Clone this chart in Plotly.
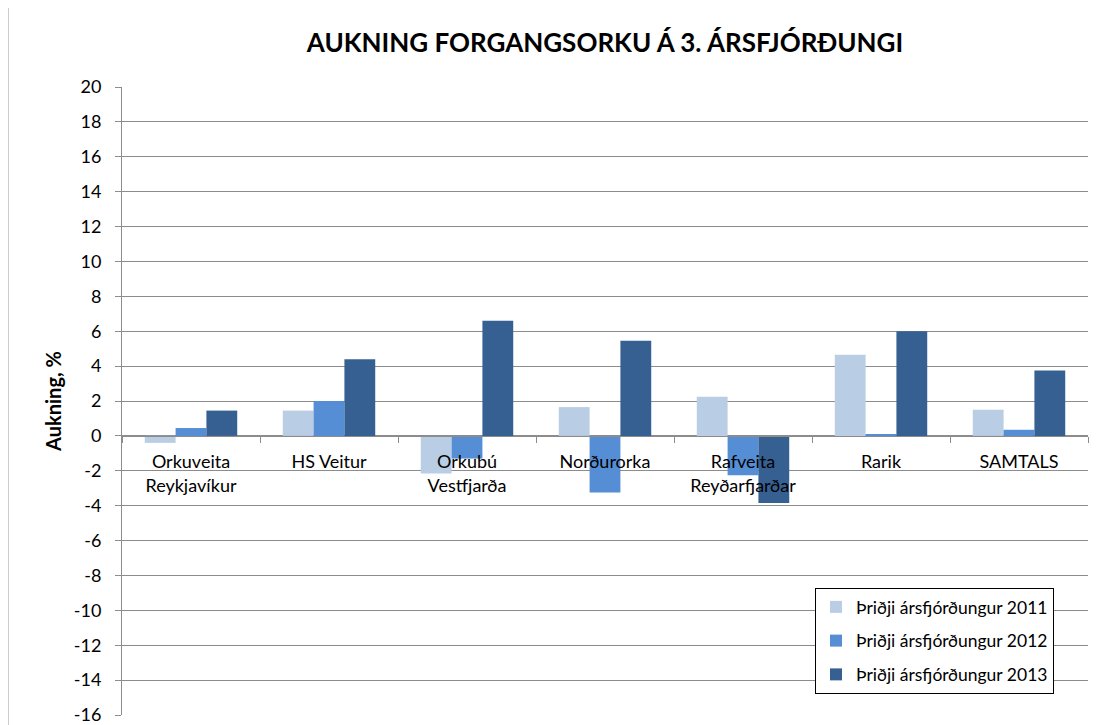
import plotly.graph_objects as go

# veitur / fyrirtæki
categories = ["Orkuveita<br>Reykjavíkur", "HS Veitur", "Orkubú<br>Vestfjarða", "Norðurorka",
              "Rafveita<br>Reyðarfjarðar", "Rarik", "SAMTALS"]

# aukning í % eftir ári
q3_2011 = [-0.4, 1.45, -2.15, 1.65, 2.25, 4.65, 1.5]
q3_2012 = [0.45, 2.0, -1.3, -3.25, -2.25, 0.1, 0.35]
q3_2013 = [1.45, 4.4, 6.6, 5.45, -3.85, 6.0, 3.75]

y_ticks = [-16, -14, -12, -10, -8, -6, -4, -2, 0, 2, 4, 6, 8, 10, 12, 14, 16, 18, 20]

series_names = ["Þriðji ársfjórðungur 2011", "Þriðji ársfjórðungur 2012", "Þriðji ársfjórðungur 2013"]
colors = ["#B9CDE5", "#558ED5", "#376092"]

# síðan hefur 8px spássíu í body, svo myndin er færð um það
OFF = 8
W, H = 1110 - 2 * OFF, 725 - OFF
L, T = 122 - OFF, 87 - OFF
R = W - (1088 - OFF)
B = H - (715 - OFF)
pw, ph = W - L - R, H - T - B

fig = go.Figure()
for name, vals, c in zip(series_names, [q3_2011, q3_2012, q3_2013], colors):
    fig.add_trace(go.Bar(x=categories, y=vals, name=name, marker_color=c,
                         marker_line_width=0, legendgroup=name))

fnt = "Lato, 'Open Sans', sans-serif"

fig.update_layout(
    width=W, height=H,
    margin=dict(l=L, r=R, t=T, b=B, autoexpand=False),
    paper_bgcolor="white", plot_bgcolor="white",
    font=dict(family=fnt, color="black", size=17),
    barmode="group", bargap=0.33, bargroupgap=0,
    title=dict(text="<b>AUKNING FORGANGSORKU Á 3. ÁRSFJÓRÐUNGI</b>",
               x=(L + pw / 2) / W, xanchor="center", y=1 - (43 - OFF) / H, yanchor="middle",
               font=dict(size=26, family=fnt)),
    legend=dict(x=(815 - OFF - L) / pw, y=(H - B - (588 - OFF)) / ph, xanchor="left", yanchor="top",
                bordercolor="black", borderwidth=1, bgcolor="white", itemwidth=30,
                font=dict(size=17.5), tracegroupgap=8, traceorder="grouped"),
    showlegend=True,
)

fig.update_yaxes(range=[-16, 20], tickmode="array", tickvals=y_ticks,
                 ticktext=[str(v) for v in y_ticks],
                 showgrid=True, gridcolor="#8C8C8C", gridwidth=1,
                 showline=True, linecolor="#8C8C8C", ticks="outside", ticklen=6,
                 tickcolor="#8C8C8C", zeroline=False, tickfont=dict(size=18),
                 ticklabelstandoff=10, ticklabeloverflow="allow",
                 title=dict(text="<b>Aukning, %</b>", font=dict(size=20), standoff=6))

fig.update_xaxes(anchor="free", position=16 / 36, showline=True, linecolor="#8C8C8C",
                 ticks="outside", ticklen=6, tickcolor="#8C8C8C", tickson="boundaries",
                 showgrid=False, tickfont=dict(size=18), ticklabelstandoff=10)

# ytri rammi
fig.add_shape(type="rect", xref="paper", yref="paper",
              x0=(8 - OFF - L) / pw, x1=1.2, y0=-0.2, y1=(H - B - (7 - OFF)) / ph,
              line=dict(color="#9A9A9A", width=1), fillcolor="rgba(0,0,0,0)", layer="below")

fig.write_html("out.html")
